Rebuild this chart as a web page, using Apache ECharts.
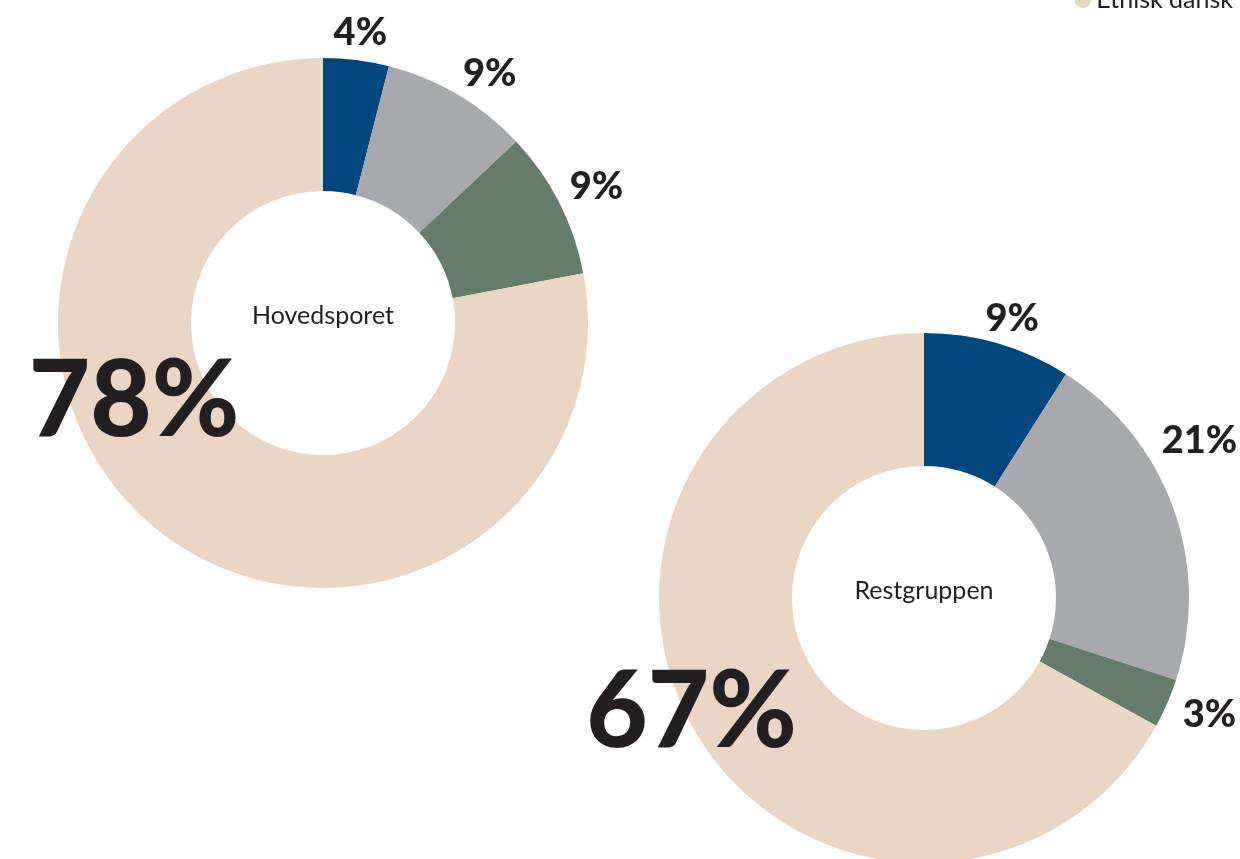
<!DOCTYPE html>
<html>
<head>
<meta charset="utf-8">
<script src="https://cdn.jsdelivr.net/npm/echarts@6/dist/echarts.min.js"></script>
<style>
  html, body { margin: 0; padding: 0; background: #fff; }
  #chart { width: 1240px; height: 859px; }
</style>
</head>
<body>
<div id="chart"></div>
<script>
// categories (clockwise from 12 o'clock)
const categories = ['Ikke-vestlige indvandrere', 'Ikke-vestlige efterkommere', 'Vestlige', 'Etnisk dansk'];
const groups = ['Hovedsporet', 'Restgruppen'];
const hovedsporetValues = [4, 9, 9, 78];
const restgruppenValues = [9, 21, 3, 67];

const colors = ['#00467f', '#a7a9ac', '#647d6b', '#ead6c3'];
const textColor = '#231f20';
const font = 'Lato, "Open Sans", sans-serif';

const chart = echarts.init(document.getElementById('chart'));

// ring of the donut, group name in the hole
const donut = (name, values, center) => ({
  name: name,
  type: 'pie',
  center: center,
  radius: [132, 265],
  startAngle: 90,
  clockwise: true,
  silent: true,
  label: {
    show: true,
    position: 'center',
    offset: [0, -7],
    color: textColor,
    fontFamily: font,
    fontSize: 25,
    formatter: p => (p.dataIndex === 0 ? p.seriesName : '')
  },
  labelLine: { show: false },
  data: categories.map((c, i) => ({ name: c, value: values[i], itemStyle: { color: colors[i] } }))
});

// invisible outer ring that only carries the percentage labels
const labelRing = (name, values, center, offsets) => ({
  name: name + ' labels',
  type: 'pie',
  center: center,
  radius: [280, 310],
  startAngle: 90,
  clockwise: true,
  silent: true,
  itemStyle: { color: 'rgba(0,0,0,0)' },
  label: {
    show: true,
    position: 'inside',
    color: textColor,
    fontFamily: font,
    fontWeight: 900,
    fontSize: 38,
    formatter: p => p.value + '%'
  },
  labelLine: { show: false },
  data: categories.map((c, i) => {
    const item = { name: c, value: values[i], label: { offset: offsets[i] } };
    if (i === categories.length - 1) item.label.fontSize = 106; // big share
    return item;
  })
});

chart.setOption({
  animation: false,
  color: colors,
  legend: {
    data: ['Etnisk dansk'],
    right: 2,
    top: -18,
    icon: 'circle',
    itemWidth: 17,
    itemHeight: 17,
    itemGap: 6,
    textStyle: { color: textColor, fontFamily: font, fontSize: 25 }
  },
  series: [
    donut(groups[0], hovedsporetValues, [323, 323]),
    labelRing(groups[0], hovedsporetValues, [323, 323], [[0, 5], [15, 7], [8, -1], [1, -151]]),
    donut(groups[1], restgruppenValues, [924, 598]),
    labelRing(groups[1], restgruppenValues, [924, 598], [[5, 7], [-5, -56], [12, -2], [24, -37]])
  ]
});

window.addEventListener('resize', () => chart.resize());
</script>
</body>
</html>
